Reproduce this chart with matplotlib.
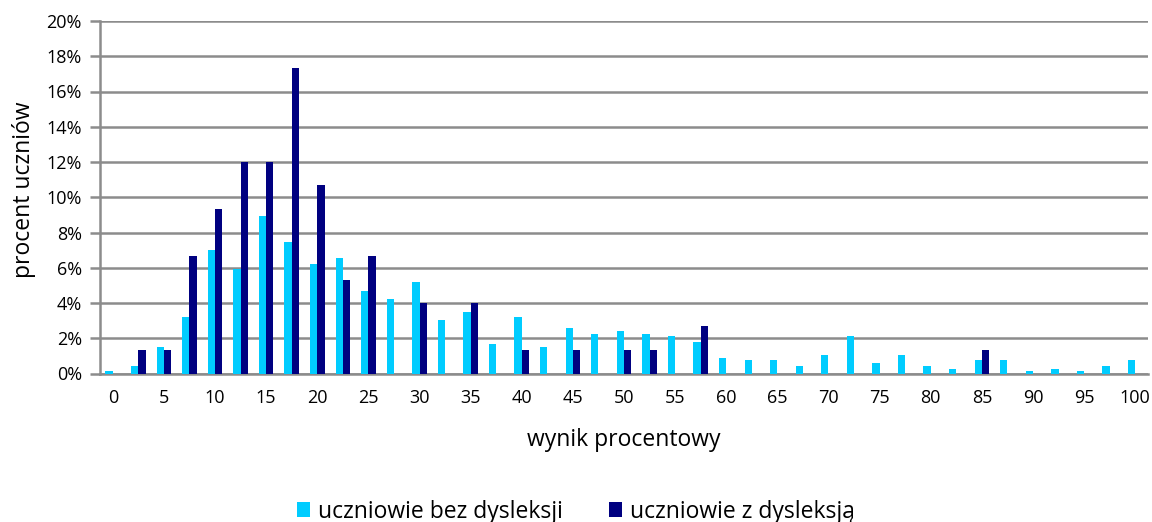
import numpy as np
import matplotlib
matplotlib.use('Agg')
import matplotlib.pyplot as plt
from matplotlib.ticker import FuncFormatter

# score bins 0, 2.5, ..., 100 (percent)
scores = [i * 2.5 for i in range(41)]
tick_labels = [str(int(s)) if i % 2 == 0 else '' for i, s in enumerate(scores)]

# share of students (%) in each bin
bez_dysleksji = [0.13, 0.44, 1.50, 3.18, 6.99, 5.95, 8.96, 7.46, 6.23, 6.53,
                 4.70, 4.24, 5.17, 3.01, 3.48, 1.65, 3.18, 1.50, 2.56, 2.25,
                 2.41, 2.25, 2.10, 1.80, 0.89, 0.74, 0.74, 0.44, 1.04, 2.12,
                 0.59, 1.04, 0.44, 0.28, 0.74, 0.74, 0.13, 0.28, 0.13, 0.44,
                 0.74]
z_dysleksja = [0, 1.33, 1.33, 6.67, 9.33, 12.0, 12.0, 17.33, 10.67, 5.33,
               6.67, 0, 4.0, 0, 4.0, 0, 1.33, 0, 1.33, 0,
               1.33, 1.33, 0, 2.67, 0, 0, 0, 0, 0, 0,
               0, 0, 0, 0, 1.33, 0, 0, 0, 0, 0,
               0]

LIGHT = '#00ccff'
DARK = '#000080'
GRID = '#8c8c8c'

plt.rcParams['font.family'] = ['Open Sans', 'DejaVu Sans']

fig = plt.figure(figsize=(11.52, 5.22), dpi=100)
ax = fig.add_axes([100 / 1152, 1 - 373.5 / 522, 1048 / 1152, 352.5 / 522])

x = np.arange(len(scores))
w = 0.285
ax.bar(x - w / 2, bez_dysleksji, w, color=LIGHT, label='uczniowie bez dysleksji', zorder=3)
ax.bar(x + w / 2, z_dysleksja, w, color=DARK, label='uczniowie z dysleksją', zorder=3)

ax.set_xlim(-0.5, len(scores) - 0.5)
ax.set_ylim(0, 20)
ax.set_yticks(np.arange(0, 21, 2))
ax.yaxis.set_major_formatter(FuncFormatter(lambda v, p: '%d%%' % v))
ax.set_xticks(x)
ax.set_xticklabels(tick_labels)

ax.grid(axis='y', color=GRID, linewidth=1.8, zorder=0)
for side in ['top', 'right']:
    ax.spines[side].set_visible(False)
ax.spines['left'].set_color(GRID)
ax.spines['left'].set_linewidth(1.8)
ax.spines['bottom'].set_color(GRID)
ax.spines['bottom'].set_linewidth(1.8)
ax.tick_params(axis='y', length=7, width=1.8, color=GRID, labelsize=13, pad=6)
ax.tick_params(axis='x', length=0, labelsize=13, pad=11)

ax.set_xlabel('wynik procentowy', fontsize=16.5, va='center')
ax.xaxis.set_label_coords(0.5, -0.189)
ax.set_ylabel('procent uczniów', fontsize=16.5, va='center')
ax.yaxis.set_label_coords(-0.0725, 0.52)

fig.legend(loc='center', bbox_to_anchor=(0.5, 0.02), ncol=2, frameon=False,
           fontsize=16.5, handlelength=0.57, handleheight=0.57, handletextpad=0.35,
           columnspacing=2.0)

fig.savefig('out.png', dpi=100)
